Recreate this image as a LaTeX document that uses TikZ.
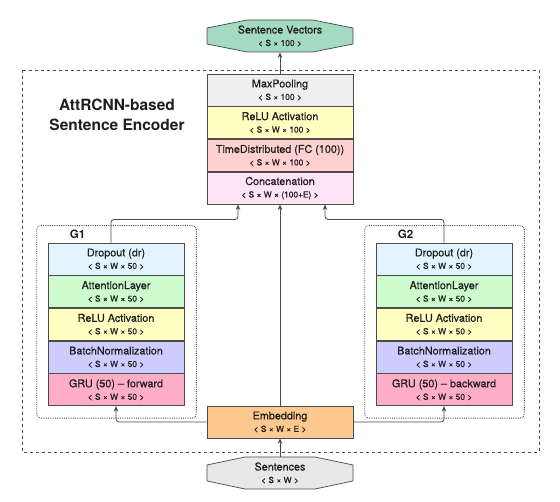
\documentclass[tikz,border=0pt]{standalone}
\usepackage{fontspec}
\setmainfont{TeX Gyre Heros}
\newfontfamily\medfont[FakeBold=0.4]{TeX Gyre Heros}
\usetikzlibrary{positioning,arrows.meta}

\definecolor{linec}{HTML}{4A4A4A}
\definecolor{txtc}{HTML}{1E1E1E}
\definecolor{vecc}{HTML}{A4D9C2}
\definecolor{sentc}{HTML}{E8E8E8}
\definecolor{poolc}{HTML}{EFEFEF}
\definecolor{reluc}{HTML}{FFFFC2}
\definecolor{densec}{HTML}{FFD0D0}
\definecolor{concc}{HTML}{FFE3F6}
\definecolor{dropc}{HTML}{E2F4FD}
\definecolor{attc}{HTML}{CDFBCD}
\definecolor{bnc}{HTML}{CCCCFF}
\definecolor{gruc}{HTML}{FFADC9}
\definecolor{embc}{HTML}{FDC98E}

\newcommand{\shapeinfo}[1]{{\fontsize{8.4}{12.5}\selectfont #1}}

\tikzset{
  layer/.style={draw=linec, line width=0.7pt, minimum width=136pt, minimum height=32pt,
    inner sep=0pt, align=center, text=txtc, font=\medfont\fontsize{10.8}{12.5}\selectfont},
  widelayer/.style={layer, minimum width=146pt},
  octbox/.style={draw=linec, line width=0.7pt},
  flow/.style={draw=linec, line width=0.8pt, rounded corners=3pt,
    -{Stealth[length=5.5pt,width=4.5pt]}},
  grpbox/.style={draw=linec, densely dotted, line width=0.8pt, rounded corners=4pt},
  grplabel/.style={font=\bfseries\fontsize{11.5}{13}\selectfont, text=txtc, inner sep=0pt},
  encbox/.style={draw=linec, dashed, line width=0.8pt}
}

\begin{document}
\begin{tikzpicture}[x=1pt, y=-1pt]
  \useasboundingbox (0,0) rectangle (560,502);

  % encoder frame and title
  \draw[encbox] (22,70) rectangle (539,452);
  \node[font=\bfseries\fontsize{15.5}{20}\selectfont, align=center, text=txtc] (title) at (117,115)
    {AttRCNN-based\\Sentence Encoder};

  % output and input
  \filldraw[octbox, fill=vecc] (207,28) -- (247,20) -- (313,20) -- (353,28) -- (353,44)
    -- (313,52) -- (247,52) -- (207,44) -- cycle;
  \node[layer, draw=none, minimum width=146pt] (vec) at (280,36)
    {Sentence Vectors\\\shapeinfo{< S × 100 >}};
  \filldraw[octbox, fill=sentc] (207,465) -- (245,457) -- (315,457) -- (353,465) -- (353,481)
    -- (315,489) -- (245,489) -- (207,481) -- cycle;
  \node[layer, draw=none, minimum width=146pt] (sent) at (280,473)
    {Sentences\\\shapeinfo{< S × W >}};

  % top stack
  \node[widelayer, fill=poolc] (maxp) at (280,90) {MaxPooling\\\shapeinfo{< S × 100 >}};
  \node[widelayer, fill=reluc, below=0pt of maxp] (relu) {ReLU Activation\\\shapeinfo{< S × W × 100 >}};
  \node[widelayer, fill=densec, below=0pt of relu] (dense) {TimeDistributed (FC (100))\\\shapeinfo{< S × W × 100 >}};
  \node[widelayer, fill=concc, below=0pt of dense] (concat) {Concatenation\\\shapeinfo{< S × W × (100+E) >}};

  \node[widelayer, fill=embc] (emb) at (280,422) {Embedding\\\shapeinfo{< S × W × E >}};

  % the two GRU branches
  \foreach \g/\gx/\dir/\name in {g1/116/forward/G1, g2/444/backward/G2} {
    \node[layer, fill=dropc] (\g drop) at (\gx,259) {Dropout (dr)\\\shapeinfo{< S × W × 50 >}};
    \node[layer, fill=attc, below=0pt of \g drop] (\g att) {AttentionLayer\\\shapeinfo{< S × W × 50 >}};
    \node[layer, fill=reluc, below=0pt of \g att] (\g relu) {ReLU Activation\\\shapeinfo{< S × W × 50 >}};
    \node[layer, fill=bnc, below=0pt of \g relu] (\g bn) {BatchNormalization\\\shapeinfo{< S × W × 50 >}};
    \node[layer, fill=gruc, below=0pt of \g bn] (\g gru) {GRU (50) – \dir\\\shapeinfo{< S × W × 50 >}};
    \draw[grpbox] ([shift={(-11pt,17pt)}]\g drop.north west) rectangle ([shift={(12pt,-12pt)}]\g gru.south east);
    \node[grplabel] (\g lbl) at ([shift={(30pt,8pt)}]\g drop.north west) {\name};
  }

  % connectors
  \draw[flow] (sent.north) -- (emb.south);
  \draw[flow] (emb.west) -| (g1gru.south);
  \draw[flow] (emb.east) -| (g2gru.south);
  \draw[flow] (emb.north) -- (concat.south);
  \draw[flow] ([xshift=-5pt]g1drop.north) |- ([shift={(-42pt,-15pt)}]concat.south) -- ([xshift=-42pt]concat.south);
  \draw[flow] (g2drop.north) |- ([shift={(45pt,-15pt)}]concat.south) -- ([xshift=45pt]concat.south);
  \draw[flow] (maxp.north) -- (vec.south);
\end{tikzpicture}
\end{document}
